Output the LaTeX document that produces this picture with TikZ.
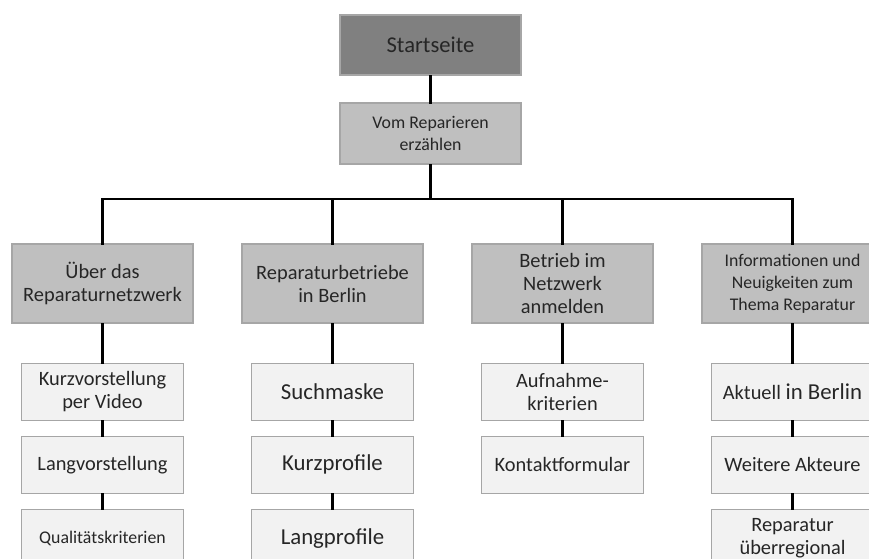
\documentclass[tikz,border=0pt]{standalone}
\usepackage{fontspec}
\setmainfont{Carlito}
\usetikzlibrary{positioning}

\begin{document}
\begin{tikzpicture}[x=0.5pt,y=-0.5pt,
                font=\fontsize{10.2}{11.5}\selectfont,
                box/.style={rectangle, draw=black!35, line width=0.6pt, text=black!85, align=center, inner sep=1pt},
                top/.style={box, fill=black!50, minimum width=90.5pt, minimum height=30pt, font=\fontsize{11.3}{13}\selectfont},
                head/.style={box, fill=black!25, minimum width=90.5pt, minimum height=39.5pt},
                page/.style={box, fill=black!5, minimum width=81pt, minimum height=28.5pt},
                small/.style={font=\fontsize{8.9}{10.9}\selectfont},
                big/.style={font=\fontsize{11.4}{13}\selectfont},
                link/.style={draw, line width=1.1pt, line cap=rect}
            ]
            \useasboundingbox (0,0) rectangle (869,558);
            \node[top](start) at (430.5,45) {Startseite};
            \node[head, small, minimum height=30.5pt](vom) at (430.5,133.5) {Vom Reparieren\\erzählen};
            \node[head](ueber) at (102.5,283.5) {Über das\\Reparaturnetzwerk};
            \node[head](betriebe) at (332.5,283.5) {Reparaturbetriebe\\in Berlin};
            \node[head](anmelden) at (562.5,283.5) {Betrieb im\\Netzwerk\\anmelden};
            \node[head, small](infos) at (792.5,283.5) {Informationen und\\Neuigkeiten zum\\Thema Reparatur};
            % pages below each section
            \node[page, below=19.5pt of ueber](video) {Kurzvorstellung\\per Video};
            \node[page, below=7.5pt of video](langv) {Langvorstellung};
            \node[page, small, below=7.5pt of langv](kriterien) {Qualitätskriterien};
            \node[page, big, below=19.5pt of betriebe](suche) {Suchmaske};
            \node[page, big, below=7.5pt of suche](kurzp) {Kurzprofile};
            \node[page, big, below=7.5pt of kurzp](langp) {Langprofile};
            \node[page, below=19.5pt of anmelden](aufnahme) {Aufnahme-\\kriterien};
            \node[page, below=7.5pt of aufnahme](kontakt) {Kontaktformular};
            \node[page, below=19.5pt of infos](aktuell) {Aktuell {\fontsize{11.4}{13}\selectfont in Berlin}};
            \node[page, below=7.5pt of aktuell](akteure) {Weitere Akteure};
            \node[page, below=7.5pt of akteure](region) {Reparatur\\überregional};
            \coordinate (bar) at (432,199);
            \path[link] (start) -- (vom);
            \path[link] (vom) -- (vom |- bar);
            \path[link] (ueber) |- (bar) -| (infos);
            \path[link] (betriebe) -- (betriebe |- bar);
            \path[link] (anmelden) -- (anmelden |- bar);
            \foreach \a/\b in {ueber/video, video/langv, langv/kriterien,
                               betriebe/suche, suche/kurzp, kurzp/langp,
                               anmelden/aufnahme, aufnahme/kontakt,
                               infos/aktuell, aktuell/akteure, akteure/region}
                \path[link] (\a) -- (\b);
        \end{tikzpicture}
\end{document}
